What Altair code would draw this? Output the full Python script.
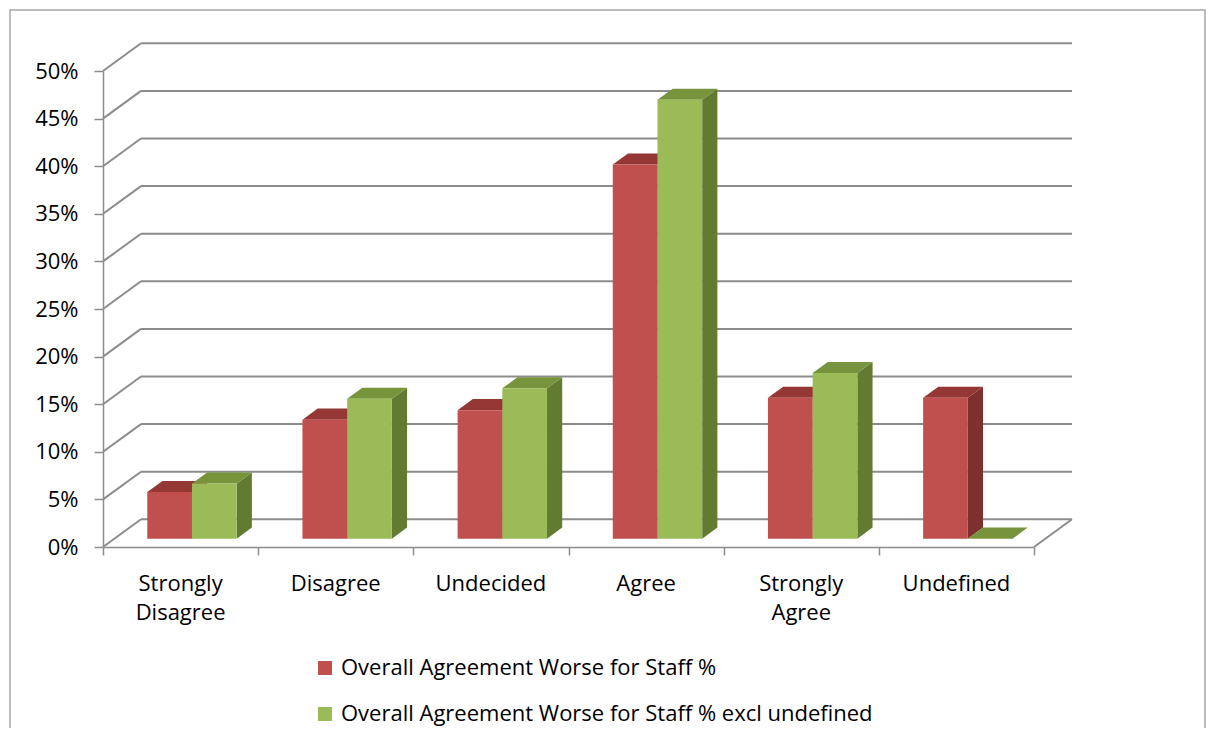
import altair as alt
import pandas as pd

# ---------------- data ----------------
CATEGORIES = ["Strongly\nDisagree", "Disagree", "Undecided", "Agree", "Strongly\nAgree", "Undefined"]
SERIES = ["Overall Agreement Worse for Staff %",
          "Overall Agreement Worse for Staff % excl undefined"]
RED_VALUES = [4.9, 12.5, 13.5, 39.3, 14.8, 14.8]
GREEN_VALUES = [5.8, 14.7, 15.8, 46.1, 17.4, 0.0]
TICKS = [0, 5, 10, 15, 20, 25, 30, 35, 40, 45, 50]

# ---------------- styling / geometry ----------------
W, H = 931, 476
PAD = {"left": 95, "top": 63, "right": 172, "bottom": 181}
N = len(CATEGORIES)
YMAX = 50
PX_X = W / N            # pixels per category unit
PX_Y = H / YMAX         # pixels per percent
DX = 38 / PX_X          # depth of the 3D box, in x units
DY = 27.7 / PX_Y        # depth of the 3D box, in y units
BAR_W = 44.7 / PX_X
F0, F1 = 0.3, 0.7       # bars occupy the middle of the depth
FRONT = ["#C0504D", "#9BBB59"]
TOP = ["#953735", "#77933C"]
SIDE = ["#7E302E", "#637B31"]
GRID = "#8C8C8C"
FONT = "Open Sans"
FS = 22

xs = alt.Scale(domain=[0, N], nice=False, zero=False)
ys = alt.Scale(domain=[0, YMAX], nice=False, zero=False)

X_AX = alt.Axis(values=list(range(N + 1)), labels=False, tickSize=8,
                domainColor=GRID, tickColor=GRID, domainWidth=1.5,
                tickWidth=1.5, grid=False, title=None)
Y_AX = alt.Axis(values=TICKS, labelExpr="datum.value + '%'", tickSize=9,
                labelPadding=16, labelFontSize=FS, labelFont=FONT,
                labelColor="#000000", domainColor=GRID, tickColor=GRID,
                domainWidth=1.5, tickWidth=1.5, grid=False, title=None)

# ---------------- tables ----------------
rows, side_rows, top_rows = [], [], []
for s, vals in enumerate([RED_VALUES, GREEN_VALUES]):
    for i, v in enumerate(vals):
        xl = i + 0.5 + (s - 1) * BAR_W
        xr = xl + BAR_W
        rows.append(dict(series=SERIES[s], s=s, i=i, v=v,
                         fx=xl + F0 * DX, fx2=xr + F0 * DX,
                         fy=F0 * DY, fy2=v + F0 * DY))
        for f in (F0, F1):
            side_rows.append(dict(id=f"{s}-{i}", s=s, x=xr + f * DX,
                                  y=f * DY, y2=v + f * DY))
            top_rows.append(dict(id=f"{s}-{i}", s=s, y=v + f * DY,
                                 x=xl + f * DX, x2=xr + f * DX))
bars = pd.DataFrame(rows)
sides = pd.DataFrame(side_rows)
tops = pd.DataFrame(top_rows)

grid = pd.DataFrame({"v": TICKS})
grid["x0"] = 0.0
grid["x1"] = DX
grid["xe"] = N + DX
grid["yb"] = grid["v"] + DY

floor_edge = pd.DataFrame({"x": [N], "x2": [N + DX], "y": [0.0], "y2": [DY]})
labels = pd.DataFrame({"x": [i + 0.5 for i in range(N)], "label": CATEGORIES, "y": [0] * N})
frame = pd.DataFrame({"a": [0]})


def X(field, **kw):
    return alt.X(field, scale=xs, axis=X_AX, **kw)


def Y(field, **kw):
    return alt.Y(field, scale=ys, axis=Y_AX, **kw)


# ---------------- layers ----------------
frame_l = alt.Chart(frame).mark_rect(fillOpacity=0, stroke="#A6A6A6", strokeWidth=1.5).encode(
    x=alt.value(-93), x2=alt.value(W + PAD["right"] - 1),
    y=alt.value(-61), y2=alt.value(H + PAD["bottom"] + 30))

wall_l = alt.Chart(grid).mark_rule(color=GRID, strokeWidth=2).encode(
    x=X("x0:Q"), x2="x1:Q", y=Y("v:Q"), y2="yb:Q")

back_l = alt.Chart(grid).mark_rule(color=GRID, strokeWidth=2).encode(
    x=X("x1:Q"), x2="xe:Q", y=Y("yb:Q"))

floor_l = alt.Chart(floor_edge).mark_rule(color=GRID, strokeWidth=2).encode(
    x=X("x:Q"), x2="x2:Q", y=Y("y:Q"), y2="y2:Q")

side_layers = []
top_layers = []
for s in (0, 1):
    side_layers.append(
        alt.Chart(sides[sides.s == s]).mark_area(orient="vertical", color=SIDE[s]).encode(
            x=X("x:Q"), y=Y("y:Q", stack=None), y2="y2:Q", detail="id:N"))
    top_layers.append(
        alt.Chart(tops[tops.s == s]).mark_area(orient="horizontal", color=TOP[s]).encode(
            y=Y("y:Q"), x=X("x:Q", stack=None), x2="x2:Q", detail="id:N"))

front_l = alt.Chart(bars).mark_rect().encode(
    x=X("fx:Q"), x2="fx2:Q",
    y=Y("fy:Q"), y2="fy2:Q",
    color=alt.Color("series:N",
                    scale=alt.Scale(domain=SERIES, range=FRONT),
                    legend=alt.Legend(orient="none", legendX=211, legendY=586,
                                      title=None, symbolType="square", symbolSize=196,
                                      symbolStrokeWidth=0, labelFontSize=FS,
                                      labelFont=FONT, labelColor="#000000",
                                      labelOffset=5, rowPadding=24, padding=0,
                                      direction="vertical", labelLimit=800)))

text_l = alt.Chart(labels).mark_text(lineBreak="\n", fontSize=FS, font=FONT,
                                     baseline="alphabetic", dy=44, lineHeight=29,
                                     color="#000000").encode(
    x=X("x:Q"), y=Y("y:Q"), text="label:N")

chart = alt.layer(frame_l, wall_l, back_l, floor_l, *side_layers, *top_layers,
                  front_l, text_l).properties(
    width=W, height=H, padding=PAD,
    autosize=alt.AutoSizeParams(type="none"),
    background="white",
).configure_view(stroke=None)

chart.save("out.html", embed_options={"renderer": "svg", "actions": False})
